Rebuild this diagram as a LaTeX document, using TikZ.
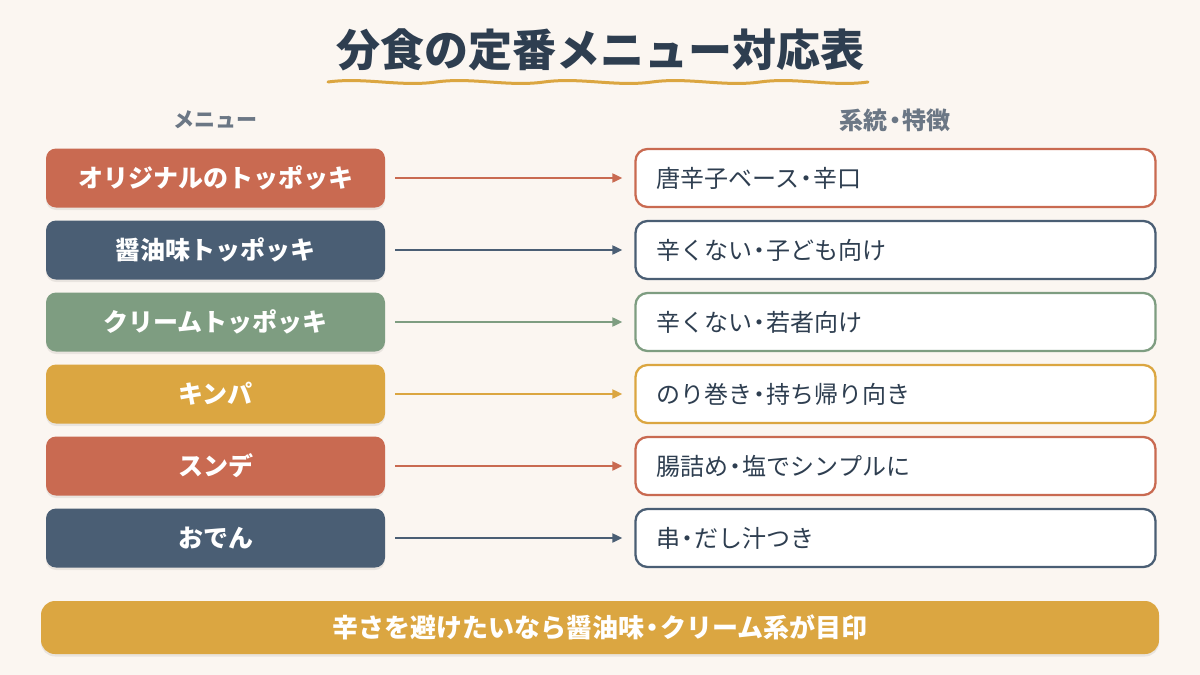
\documentclass[tikz,border=0pt]{standalone}
\usepackage{fontspec}
\setmainfont{Noto Sans CJK JP}
\usetikzlibrary{arrows.meta}
\definecolor{bg}{HTML}{FBF6F1}
\definecolor{navy}{HTML}{2E3E50}
\definecolor{hdr}{HTML}{6B7785}
\definecolor{terra}{HTML}{C96A51}
\definecolor{slate}{HTML}{4A5E74}
\definecolor{sage}{HTML}{7E9D81}
\definecolor{gold}{HTML}{DBA641}
\newcommand{\nd}{\kern-0.2em・\kern-0.2em}
\tikzset{
  softshadow/.style={preaction={fill=black, opacity=0.07, transform canvas={yshift=-2.5pt}}},
  menubox/.style={draw=none, fill=#1, rounded corners=10pt, minimum width=339pt, minimum height=59pt,
    text=white, font=\fontsize{25}{30}\selectfont\bfseries, softshadow},
  featbox/.style={draw=#1, line width=2.3pt, fill=white, rounded corners=12pt, minimum width=520pt, minimum height=58pt,
    text=navy, font=\fontsize{24}{28}\selectfont, align=left, text width=478pt, inner xsep=21pt},
  conn/.style={draw=#1, line width=2pt, -{Triangle[length=10pt,width=9pt]}},
  colhdr/.style={text=hdr, font=\fontsize{#1}{28}\selectfont\bfseries},
}
\begin{document}
\begin{tikzpicture}[x=1pt,y=-1pt]
\fill[bg] (0,0) rectangle (1200,675);
\useasboundingbox (0,0) rectangle (1200,675);
\node[text=navy, font=\fontsize{44}{50}\selectfont\bfseries] (title) at (600,50) {分食の定番メニュー対応表};
\draw[gold, line width=3pt, line cap=round] (328,82)
  \foreach \i in {0,...,4} { .. controls ({328+\i*108+36},{77}) and ({328+\i*108+72},{87}) .. ({328+(\i+1)*108},{82}) };
\node[colhdr=21] (h1) at (215,120) {メニュー};
\node[colhdr=24] (h2) at (895,120) {系統\nd 特徴};
\foreach \n/\y/\c/\a/\b in {
  1/178/terra/オリジナルのトッポッキ/唐辛子ベース\nd 辛口,
  2/250/slate/醤油味トッポッキ/辛くない\nd 子ども向け,
  3/322/sage/クリームトッポッキ/辛くない\nd 若者向け,
  4/394/gold/キンパ/のり巻き\nd 持ち帰り向き,
  5/466/terra/スンデ/腸詰め\nd 塩でシンプルに,
  6/538/slate/おでん/串\nd だし汁つき} {
  \node[menubox=\c] (m\n) at (215.5,\y) {\a};
  \node[featbox=\c] (f\n) at (895.5,\y) {\b};
  \draw[conn=\c] ([xshift=10pt]m\n.east) -- ([xshift=-12pt]f\n.west);
}
\node[fill=gold, rounded corners=14pt, minimum width=1118pt, minimum height=53pt, text=white,
  font=\fontsize{26}{30}\selectfont\bfseries, softshadow] (note) at (600,627.5) {辛さを避けたいなら醤油味\nd クリーム系が目印};
\end{tikzpicture}
\end{document}
